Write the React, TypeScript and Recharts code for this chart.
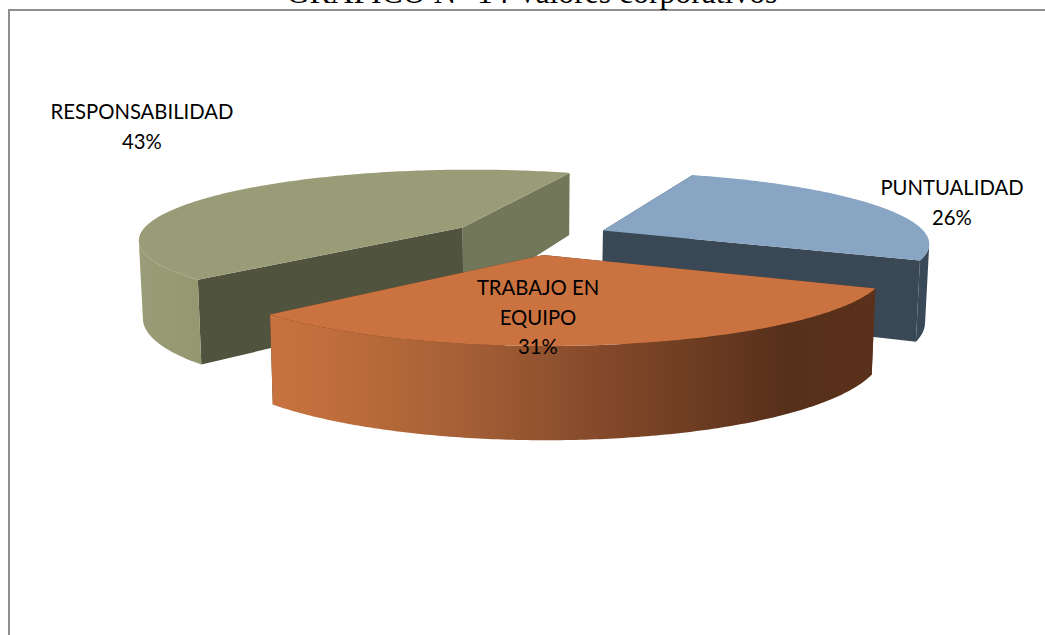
import React from "react";
import { PieChart, Pie } from "recharts";

// Survey shares, one entry per value. Later slices paint over earlier ones.
const categories = ["RESPONSABILIDAD", "PUNTUALIDAD", "TRABAJO EN EQUIPO"];
const shares = [43, 26, 31];
const labelLines = [["RESPONSABILIDAD"], ["PUNTUALIDAD"], ["TRABAJO EN", "EQUIPO"]];

const topColors = ["#999C76", "#88A5C3", "#CB7340"];
const wallPaints = ["url(#wallGreen)", "#3A4958", "url(#wallOrange)"];
const startFaceColors = ["#50533D", "#3A4855", "#5A311B"];
const endFaceColors = ["#72775A", "#3A4855", "#5A311B"];
const labelOffsets = [
  [-387, -125],
  [423, -49],
  [9, 51],
];

const WIDTH = 1045;
const HEIGHT = 635;
const CX = 529;
const CY = 237;
const RADIUS = 325;

// Tilted-disc projection parameters.
const SQUASH = 70 / 325;
const PERSPECTIVE = 0.16;
const EXPLODE = 0.25;
const THICKNESS = 77;
const THICKNESS_SLOPE = 0.18;
const CONVERGE = 0.0105;

type Pt = [number, number];
const RAD = Math.PI / 180;

// Maps plane coordinates (radius = 1) and a height flag onto the screen.
function project(u: number, v: number, lower: boolean, cx: number, cy: number, r: number): Pt {
  const p = 1 / (1 - PERSPECTIVE * v);
  let x = cx + r * u * p;
  let y = cy + r * SQUASH * v * p;
  if (lower) {
    x = cx + (x - cx) * (1 - CONVERGE);
    y += THICKNESS * (1 + THICKNESS_SLOPE * v);
  }
  return [x, y];
}

const toPath = (pts: Pt[]) =>
  pts.map((q, i) => `${i ? "L" : "M"}${q[0].toFixed(2)} ${q[1].toFixed(2)}`).join(" ") + " Z";

// A pie sector redrawn as an exploded, extruded wedge of the tilted disc.
function WedgeShape(props: any) {
  const { cx, cy, outerRadius, startAngle, endAngle, midAngle, index, payload } = props;
  const i = index ?? categories.indexOf(payload?.name);
  const a0 = -startAngle;
  const a1 = -endAngle;
  const mid = -midAngle * RAD;
  const ou = EXPLODE * Math.cos(mid);
  const ov = EXPLODE * Math.sin(mid);
  const at = (deg: number, lower: boolean) =>
    project(ou + Math.cos(deg * RAD), ov + Math.sin(deg * RAD), lower, cx, cy, outerRadius);
  const apex = (lower: boolean) => project(ou, ov, lower, cx, cy, outerRadius);

  const lo = Math.min(a0, a1);
  const hi = Math.max(a0, a1);
  const arc: number[] = [];
  const n = 160;
  for (let k = 0; k <= n; k++) arc.push(lo + ((hi - lo) * k) / n);

  // The rim faces the viewer from the point where its screen tangent turns vertical.
  const isFront = (deg: number) => {
    const s = Math.sin(deg * RAD);
    const c = Math.cos(deg * RAD);
    return s * (1 - PERSPECTIVE * ov) >= PERSPECTIVE * (1 + ou * c);
  };
  const front = arc.filter(isFront);

  const top: Pt[] = [apex(false), ...arc.map((d) => at(d, false))];
  const wall: Pt[] = [
    ...front.map((d) => at(d, false)),
    ...front.slice().reverse().map((d) => at(d, true)),
  ];
  const faceA: Pt[] = [apex(false), at(lo, false), at(lo, true), apex(true)];
  const faceB: Pt[] = [apex(false), at(hi, false), at(hi, true), apex(true)];

  return (
    <g>
      <path d={toPath(faceA)} fill={startFaceColors[i]} />
      <path d={toPath(faceB)} fill={endFaceColors[i]} />
      {wall.length > 2 && <path d={toPath(wall)} fill={wallPaints[i]} />}
      <path d={toPath(top)} fill={topColors[i]} />
    </g>
  );
}

// Category name, wrapped, with the percentage on the last line.
function SliceLabel(props: any) {
  const { cx, cy, percent, index } = props;
  const lines = [...labelLines[index], `${Math.round(percent * 100)}%`];
  const [dx, dy] = labelOffsets[index];
  return (
    <text
      x={cx + dx}
      y={cy + dy}
      textAnchor="middle"
      fontFamily="Lato, 'Open Sans', sans-serif"
      fontSize={20.3}
      fill="#000000"
    >
      {lines.map((line, k) => (
        <tspan key={k} x={cx + dx} dy={k === 0 ? 7 : 29.5}>
          {line}
        </tspan>
      ))}
    </text>
  );
}

const rows = categories.map((name, k) => ({ name, value: shares[k] }));

export default function App() {
  return (
    <div style={{ position: "absolute", left: 0, top: 0, width: WIDTH, height: HEIGHT, overflow: "hidden", background: "#fff" }}>
      <PieChart width={WIDTH} height={HEIGHT} margin={{ top: 0, right: 0, bottom: 0, left: 0 }}>
        <defs>
          <linearGradient id="wallOrange" x1="0" y1="0" x2="1" y2="0">
            <stop offset="0" stopColor="#C8733F" />
            <stop offset="0.1" stopColor="#BF6E3B" />
            <stop offset="0.3" stopColor="#A76137" />
            <stop offset="0.55" stopColor="#84492A" />
            <stop offset="0.85" stopColor="#57301A" />
            <stop offset="1" stopColor="#5A311B" />
          </linearGradient>
          <linearGradient id="wallGreen" x1="0" y1="0" x2="1" y2="0">
            <stop offset="0" stopColor="#999C76" />
            <stop offset="1" stopColor="#94976F" />
          </linearGradient>
        </defs>
        <path d={`M9 ${HEIGHT} L9 10 L${WIDTH} 10`} fill="none" stroke="#8E8E8E" strokeWidth={2} />
        <text
          x={532}
          y={3}
          textAnchor="middle"
          fontFamily="'Liberation Serif', 'Times New Roman', serif"
          fontSize={31.7}
          fill="#000000"
        >
          GRAFICO N° 14 Valores corporativos
        </text>
        <Pie
          data={rows}
          dataKey="value"
          nameKey="name"
          cx={CX}
          cy={CY}
          outerRadius={RADIUS}
          startAngle={-136}
          endAngle={-496}
          stroke="none"
          paddingAngle={0}
          isAnimationActive={false}
          shape={WedgeShape}
          label={SliceLabel}
          labelLine={false}
        />
      </PieChart>
    </div>
  );
}
